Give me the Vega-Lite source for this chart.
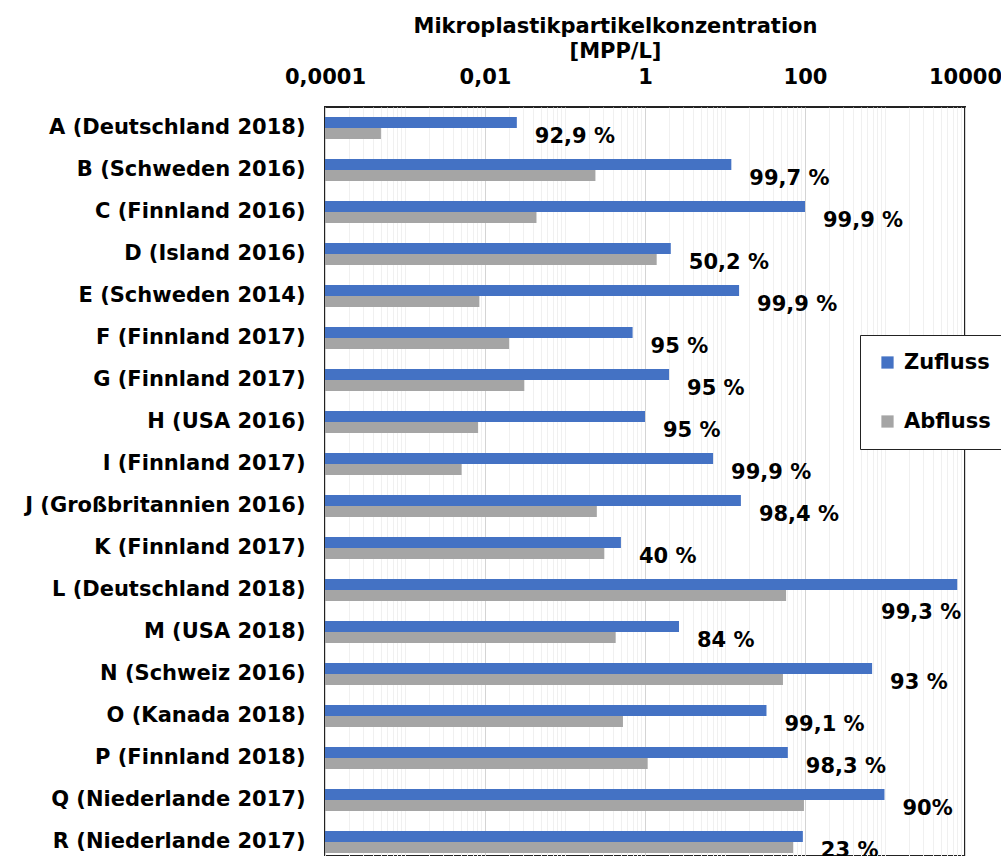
{
  "$schema": "https://vega.github.io/schema/vega-lite/v6.json",
  "width": 640,
  "height": 749,
  "autosize": {"type": "none"},
  "padding": {"left": 325, "top": 107, "right": 36, "bottom": 0},
  "background": "white",
  "config": {
    "font": "DejaVu Sans",
    "view": {"stroke": "#222222", "strokeWidth": 2},
    "text": {"font": "DejaVu Sans"}
  },
  "data": {
    "values": [
      {"Standort": "A (Deutschland 2018)", "Zufluss": 0.025, "Abfluss": 0.0005, "Anteil": "92,9 %"},
      {"Standort": "B (Schweden 2016)", "Zufluss": 12, "Abfluss": 0.24, "Anteil": "99,7 %"},
      {"Standort": "C (Finnland 2016)", "Zufluss": 100, "Abfluss": 0.044, "Anteil": "99,9 %"},
      {"Standort": "D (Island 2016)", "Zufluss": 2.1, "Abfluss": 1.4, "Anteil": "50,2 %"},
      {"Standort": "E (Schweden 2014)", "Zufluss": 15, "Abfluss": 0.0085, "Anteil": "99,9 %"},
      {"Standort": "F (Finnland 2017)", "Zufluss": 0.7, "Abfluss": 0.02, "Anteil": "95 %"},
      {"Standort": "G (Finnland 2017)", "Zufluss": 2.0, "Abfluss": 0.031, "Anteil": "95 %"},
      {"Standort": "H (USA 2016)", "Zufluss": 1.0, "Abfluss": 0.0082, "Anteil": "95 %"},
      {"Standort": "I (Finnland 2017)", "Zufluss": 7.1, "Abfluss": 0.0051, "Anteil": "99,9 %"},
      {"Standort": "J (Großbritannien 2016)", "Zufluss": 15.8, "Abfluss": 0.25, "Anteil": "98,4 %"},
      {"Standort": "K (Finnland 2017)", "Zufluss": 0.5, "Abfluss": 0.31, "Anteil": "40 %"},
      {"Standort": "L (Deutschland 2018)", "Zufluss": 8000, "Abfluss": 58, "Anteil": "99,3 %"},
      {"Standort": "M (USA 2018)", "Zufluss": 2.66, "Abfluss": 0.43, "Anteil": "84 %"},
      {"Standort": "N (Schweiz 2016)", "Zufluss": 690, "Abfluss": 53, "Anteil": "93 %"},
      {"Standort": "O (Kanada 2018)", "Zufluss": 33, "Abfluss": 0.53, "Anteil": "99,1 %"},
      {"Standort": "P (Finnland 2018)", "Zufluss": 61, "Abfluss": 1.08, "Anteil": "98,3 %"},
      {"Standort": "Q (Niederlande 2017)", "Zufluss": 985, "Abfluss": 97, "Anteil": "90%"},
      {"Standort": "R (Niederlande 2017)", "Zufluss": 94, "Abfluss": 71, "Anteil": "23 %"}
    ]
  },
  "layer": [
    {
      "transform": [{"fold": ["Zufluss", "Abfluss"], "as": ["Serie", "Wert"]}],
      "mark": {"type": "bar"},
      "encoding": {
        "y": {
          "field": "Standort", "type": "nominal", "sort": null,
          "scale": {"range": [0, 756], "paddingInner": 0.476, "paddingOuter": 0.238},
          "axis": {
            "title": null, "orient": "left", "ticks": false, "domain": false,
            "labelPadding": 20, "labelFontSize": 21, "labelFontWeight": "bold",
            "labelColor": "black", "labelFont": "DejaVu Sans", "labelLimit": 400
          }
        },
        "yOffset": {"field": "Serie", "type": "nominal", "sort": ["Zufluss", "Abfluss"], "scale": {"paddingInner": 0}},
        "x": {
          "field": "Wert", "type": "quantitative",
          "scale": {"type": "log", "domain": [0.0001, 10000], "nice": false},
          "axis": {
            "orient": "top",
            "title": ["Mikroplastikpartikelkonzentration", "[MPP/L]"],
            "titleFontSize": 21, "titleFontWeight": "bold", "titleColor": "black",
            "titleFont": "DejaVu Sans", "titleLineHeight": 25,
            "titleX": 290, "titleY": -75, "titleAnchor": "start", "titleAlign": "center", "titleBaseline": "alphabetic",
            "ticks": false, "domain": false,
            "labelFontSize": 21, "labelFontWeight": "bold", "labelColor": "black", "labelFont": "DejaVu Sans",
            "labelPadding": 20, "labelFlush": false, "labelOverlap": false,
            "values": [0.0001,0.0002,0.0003,0.0004,0.0005,0.0006,0.0007,0.0008,0.0009,
                       0.001,0.002,0.003,0.004,0.005,0.006,0.007,0.008,0.009,
                       0.01,0.02,0.03,0.04,0.05,0.06,0.07,0.08,0.09,
                       0.1,0.2,0.3,0.4,0.5,0.6,0.7,0.8,0.9,
                       1,2,3,4,5,6,7,8,9,
                       10,20,30,40,50,60,70,80,90,
                       100,200,300,400,500,600,700,800,900,
                       1000,2000,3000,4000,5000,6000,7000,8000,9000,
                       10000],
            "labelExpr": "datum.value == 0.0001 ? '0,0001' : datum.value == 0.01 ? '0,01' : datum.value == 1 ? '1' : datum.value == 100 ? '100' : datum.value == 10000 ? '10000' : ''",
            "grid": true,
            "gridColor": {"condition": {"test": "datum.value == 0.0001 || datum.value == 0.01 || datum.value == 1 || datum.value == 100 || datum.value == 10000", "value": "#d4d4d4"}, "value": "#f0f0f0"},
            "gridWidth": 1
          }
        },
        "x2": {"datum": 0.0001},
        "color": {
          "field": "Serie", "type": "nominal",
          "scale": {"domain": ["Zufluss", "Abfluss"], "range": ["#4472C4", "#A5A5A5"]},
          "legend": {
            "orient": "none", "legendX": 535, "legendY": 228, "title": null, "direction": "vertical",
            "strokeColor": "#222222", "fillColor": "white", "padding": 17, "rowPadding": 37,
            "symbolType": "square", "symbolSize": 150, "symbolStrokeWidth": 0,
            "labelFontSize": 21, "labelFontWeight": "bold", "labelColor": "black", "labelFont": "DejaVu Sans",
            "labelOffset": 6
          }
        }
      }
    },
    {
      "transform": [{"filter": "datum.Zufluss < 5000"}],
      "mark": {"type": "text", "align": "left", "baseline": "middle", "dx": 18, "dy": 9, "fontSize": 21, "fontWeight": "bold", "color": "black"},
      "encoding": {
        "y": {"field": "Standort", "type": "nominal", "sort": null},
        "x": {"field": "Zufluss", "type": "quantitative"},
        "text": {"field": "Anteil"}
      }
    },
    {
      "transform": [{"filter": "datum.Zufluss >= 5000"}],
      "mark": {"type": "text", "align": "right", "baseline": "middle", "dx": 4, "dy": 23, "fontSize": 21, "fontWeight": "bold", "color": "black"},
      "encoding": {
        "y": {"field": "Standort", "type": "nominal", "sort": null},
        "x": {"field": "Zufluss", "type": "quantitative"},
        "text": {"field": "Anteil"}
      }
    }
  ]
}
